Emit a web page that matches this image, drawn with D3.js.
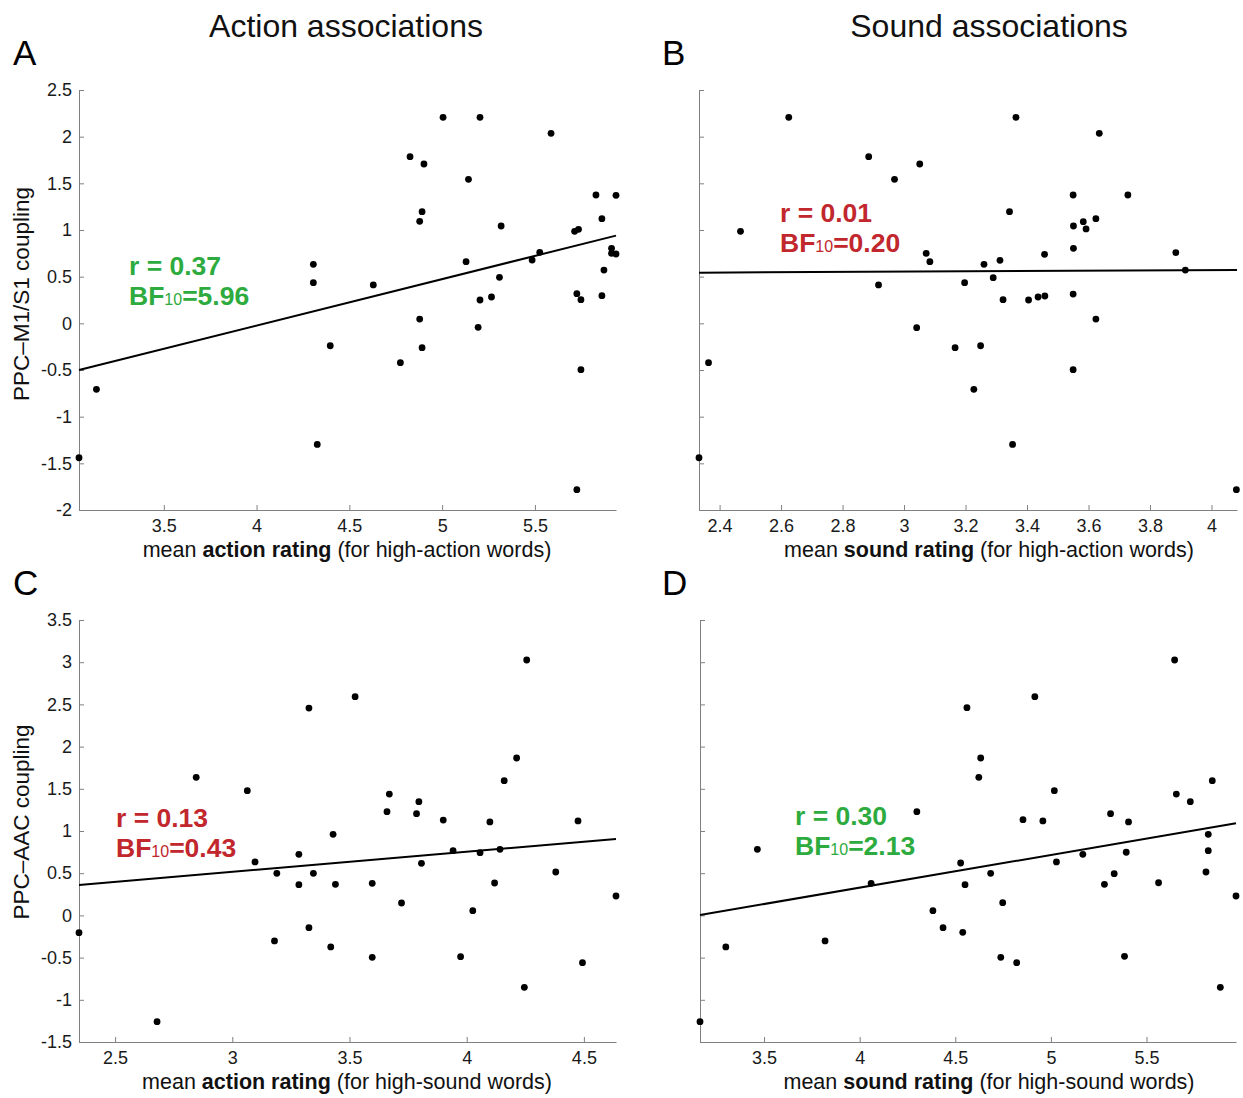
<!DOCTYPE html>
<html>
<head>
<meta charset="utf-8">
<script src="https://d3js.org/d3.v7.min.js"></script>
<style>
body { margin: 0; background: #fff; }
svg text { font-family: "Liberation Sans", Arial, Helvetica, sans-serif; }
</style>
</head>
<body>
<div id="chart"></div>
<script>
// Panel A: action rating vs PPC-M1/S1 coupling (high-action words)
var panelA_x = [3.043, 3.137, 4.306, 4.306, 4.327, 4.397, 5.005, 5.204, 5.587, 4.827,
                4.902, 5.142, 5.829, 5.937, 4.892, 4.879, 5.861, 5.318, 5.714, 5.735,
                5.913, 5.913, 5.937, 5.526, 5.485, 5.129, 5.872, 5.309, 4.629, 5.726,
                5.748, 5.861, 5.266, 5.204, 4.879, 5.194, 4.892, 4.775, 5.748, 5.726];
var panelA_y = [-1.44, -0.707, 0.632, 0.436, -1.297, -0.24, 2.207, 2.207, 2.036, 1.786,
                1.707, 1.543, 1.375, 1.371, 1.196, 1.093, 1.121, 1.043, 0.986, 1.007,
                0.804, 0.75, 0.743, 0.761, 0.678, 0.661, 0.571, 0.493, 0.411, 0.318,
                0.253, 0.296, 0.282, 0.25, 0.046, -0.043, -0.261, -0.421, -0.497, -1.782];

// Panel B: sound rating vs PPC-M1/S1 coupling (high-action words)
var panelB_x = [2.625, 2.885, 3.051, 2.969, 2.468, 3.072, 3.084, 2.917, 3.041, 3.166,
                2.364, 2.333, 3.364, 3.635, 3.550, 3.728, 3.343, 3.551, 3.583, 3.624,
                3.592, 3.551, 3.884, 3.457, 3.312, 3.260, 3.915, 3.197, 3.290, 3.322,
                3.405, 3.436, 3.458, 3.550, 3.624, 3.249, 3.227, 3.550, 3.353, 4.081];
var panelB_y = [2.207, 1.786, 1.707, 1.543, 0.986, 0.75, 0.661, 0.411, -0.046, -0.261,
                -0.421, -1.44, 2.207, 2.036, 1.375, 1.375, 1.196, 1.043, 1.089, 1.121,
                1.011, 0.804, 0.757, 0.739, 0.675, 0.632, 0.571, 0.436, 0.489, 0.253,
                0.25, 0.282, 0.293, 0.314, 0.046, -0.24, -0.707, -0.497, -1.297, -1.782];

// Panel C: action rating vs PPC-AAC coupling (high-sound words)
var panelC_x = [3.327, 2.846, 3.064, 3.097, 3.284, 3.190, 3.346, 3.284, 2.346, 3.327,
                3.180, 3.420, 2.679, 4.256, 3.524, 4.213, 4.160, 3.670, 3.796, 3.660,
                3.786, 3.900, 4.099, 4.475, 3.430, 3.942, 4.057, 4.142, 3.807, 4.380,
                3.440, 3.597, 4.119, 4.637, 3.722, 4.026, 3.597, 3.974, 4.494, 4.246];
var panelC_y = [2.457, 1.636, 1.478, 0.633, 0.724, 0.499, 0.499, 0.364, -0.205, -0.146,
                -0.303, -0.374, -1.259, 3.026, 2.591, 1.865, 1.596, 1.438, 1.347, 1.229,
                1.205, 1.130, 1.107, 1.119, 0.961, 0.767, 0.743, 0.783, 0.617, 0.514,
                0.368, 0.380, 0.384, 0.230, 0.147, 0.056, -0.497, -0.489, -0.560, -0.852];

// Panel D: sound rating vs PPC-AAC coupling (high-sound words)
var panelD_x = [4.299, 3.465, 4.060, 4.383, 4.436, 3.300, 3.819, 3.165, 4.528, 4.539,
                5.647, 4.916, 4.561, 4.633, 4.623, 5.844, 5.018, 5.656, 5.729, 5.312,
                4.854, 4.958, 5.406, 5.823, 5.823, 5.394, 5.167, 5.029, 4.685, 5.331,
                5.811, 4.551, 5.280, 5.563, 5.968, 4.748, 4.738, 5.385, 4.821, 5.886];
var panelD_y = [1.229, 0.783, 0.380, 0.056, -0.146, -0.374, -0.303, -1.259, 0.621, -0.201,
                3.026, 2.591, 2.461, 1.865, 1.636, 1.596, 1.478, 1.438, 1.347, 1.205,
                1.134, 1.119, 1.107, 0.961, 0.767, 0.748, 0.724, 0.633, 0.499, 0.494,
                0.514, 0.364, 0.368, 0.387, 0.230, 0.151, -0.497, -0.485, -0.560, -0.852];

// fitted line: y at left and right end of x range
var fitA = [-0.50, 0.94];
var fitB = [0.543, 0.571];
var fitC = [0.36, 0.905];
var fitD = [0.005, 1.091];

// axis ranges and ticks
var xDomainA = [3.043, 5.937], xDomainB = [2.333, 4.083];
var xDomainC = [2.346, 4.637], xDomainD = [3.165, 5.968];
var yDomainTop = [-2, 2.5], yDomainBottom = [-1.5, 3.5];

var xTicksA = [3.5, 4, 4.5, 5, 5.5];
var xTicksB = [2.4, 2.6, 2.8, 3, 3.2, 3.4, 3.6, 3.8, 4];
var xTicksC = [2.5, 3, 3.5, 4, 4.5];
var xTicksD = [3.5, 4, 4.5, 5, 5.5];
var yTicksTop = [-2, -1.5, -1, -0.5, 0, 0.5, 1, 1.5, 2, 2.5];
var yTicksBottom = [-1.5, -1, -0.5, 0, 0.5, 1, 1.5, 2, 2.5, 3, 3.5];

// texts
var columnTitles = ["Action associations", "Sound associations"];
var panelLetters = ["A", "B", "C", "D"];
var rValues = ["0.37", "0.01", "0.13", "0.30"];
var bfValues = ["5.96", "0.20", "0.43", "2.13"];
var yLabels = ["PPC\u2013M1/S1 coupling", "PPC\u2013AAC coupling"];
// x label parts: [plain, bold, plain]
var xLabelsA = ["mean ", "action rating", " (for high-action words)"];
var xLabelsB = ["mean ", "sound rating", " (for high-action words)"];
var xLabelsC = ["mean ", "action rating", " (for high-sound words)"];
var xLabelsD = ["mean ", "sound rating", " (for high-sound words)"];

var green = "#2eab3e", red = "#c1272d";
var axisGrey = "#808080";

var width = 1243, height = 1098;

var svg = d3.select("#chart")
  .append("svg")
    .attr("width", width)
    .attr("height", height);

var panels = [
  {xs: panelA_x, ys: panelA_y, fit: fitA, xDomain: xDomainA, yDomain: yDomainTop,
   xTicks: xTicksA, yTicks: yTicksTop, showY: true, xLabel: xLabelsA, labelX: 347,
   left: 79, right: 616, top: 90, bottom: 510, stat: 0, statX: 129, statY: 275, color: green},
  {xs: panelB_x, ys: panelB_y, fit: fitB, xDomain: xDomainB, yDomain: yDomainTop,
   xTicks: xTicksB, yTicks: yTicksTop, showY: false, xLabel: xLabelsB, labelX: 989,
   left: 699, right: 1237, top: 90, bottom: 510, stat: 1, statX: 780, statY: 222, color: red},
  {xs: panelC_x, ys: panelC_y, fit: fitC, xDomain: xDomainC, yDomain: yDomainBottom,
   xTicks: xTicksC, yTicks: yTicksBottom, showY: true, xLabel: xLabelsC, labelX: 347,
   left: 79, right: 616, top: 620, bottom: 1042, stat: 2, statX: 116, statY: 827, color: red},
  {xs: panelD_x, ys: panelD_y, fit: fitD, xDomain: xDomainD, yDomain: yDomainBottom,
   xTicks: xTicksD, yTicks: yTicksBottom, showY: false, xLabel: xLabelsD, labelX: 989,
   left: 700, right: 1236, top: 620, bottom: 1042, stat: 3, statX: 795, statY: 825, color: green}
];

function styleAxis(sel) {
  sel.select(".domain").attr("stroke", axisGrey).attr("stroke-width", 1);
  sel.selectAll(".tick line").attr("stroke", axisGrey).attr("stroke-width", 1);
  sel.selectAll(".tick text")
    .attr("fill", "#1a1a1a")
    .style("font-size", "18px")
    .style("font-family", "'Liberation Sans', Arial, sans-serif");
}

function drawPanel(p) {
  var x = d3.scaleLinear().domain(p.xDomain).range([p.left, p.right]);
  var y = d3.scaleLinear().domain(p.yDomain).range([p.bottom, p.top]);
  var g = svg.append("g");

  var xAxis = d3.axisBottom(x)
    .tickValues(p.xTicks)
    .tickSizeInner(-5)
    .tickSizeOuter(0)
    .tickPadding(9)
    .tickFormat(function(d) { return String(d); });
  g.append("g")
    .attr("transform", "translate(0," + p.bottom + ")")
    .call(xAxis)
    .call(styleAxis);

  var yAxis = d3.axisLeft(y)
    .tickValues(p.yTicks)
    .tickSizeInner(-5)
    .tickSizeOuter(0)
    .tickPadding(7)
    .tickFormat(function(d) { return p.showY ? String(d) : ""; });
  g.append("g")
    .attr("transform", "translate(" + p.left + ",0)")
    .call(yAxis)
    .call(styleAxis);

  // regression line
  g.append("line")
    .attr("x1", x(p.xDomain[0]))
    .attr("y1", y(p.fit[0]))
    .attr("x2", x(p.xDomain[1]))
    .attr("y2", y(p.fit[1]))
    .attr("stroke", "#000")
    .attr("stroke-width", 2);

  // points
  g.selectAll("circle")
    .data(d3.range(p.xs.length))
    .enter()
    .append("circle")
      .attr("cx", function(i) { return x(p.xs[i]); })
      .attr("cy", function(i) { return y(p.ys[i]); })
      .attr("r", 3.4)
      .attr("fill", "#000");

  // stats
  g.append("text")
    .attr("x", p.statX)
    .attr("y", p.statY)
    .attr("fill", p.color)
    .style("font-size", "26.5px")
    .style("font-weight", "bold")
    .text("r = " + rValues[p.stat]);
  var bf = g.append("text")
    .attr("x", p.statX)
    .attr("y", p.statY + 30)
    .attr("fill", p.color)
    .style("font-size", "26.5px")
    .style("font-weight", "bold");
  bf.append("tspan").text("BF");
  bf.append("tspan").style("font-size", "16px").style("font-weight", "normal").text("10");
  bf.append("tspan").text("=" + bfValues[p.stat]);

  // x label
  var xl = g.append("text")
    .attr("x", p.labelX)
    .attr("y", p.bottom + 47)
    .attr("text-anchor", "middle")
    .attr("fill", "#111")
    .style("font-size", "21.5px");
  xl.append("tspan").text(p.xLabel[0]);
  xl.append("tspan").style("font-weight", "bold").text(p.xLabel[1]);
  xl.append("tspan").text(p.xLabel[2]);
}

panels.forEach(drawPanel);

// y labels
svg.append("text")
  .attr("transform", "translate(29,294) rotate(-90)")
  .attr("text-anchor", "middle")
  .attr("fill", "#111")
  .style("font-size", "22.5px")
  .text(yLabels[0]);
svg.append("text")
  .attr("transform", "translate(29,822) rotate(-90)")
  .attr("text-anchor", "middle")
  .attr("fill", "#111")
  .style("font-size", "22.5px")
  .text(yLabels[1]);

// column titles
svg.append("text")
  .attr("x", 346).attr("y", 37)
  .attr("text-anchor", "middle")
  .attr("fill", "#111")
  .style("font-size", "32px")
  .text(columnTitles[0]);
svg.append("text")
  .attr("x", 989).attr("y", 37)
  .attr("text-anchor", "middle")
  .attr("fill", "#111")
  .style("font-size", "32px")
  .text(columnTitles[1]);

// panel letters
var letterPos = [[13, 65], [662, 65], [13, 595], [662, 595]];
svg.selectAll(".letter")
  .data(panelLetters)
  .enter()
  .append("text")
    .attr("class", "letter")
    .attr("x", function(d, i) { return letterPos[i][0]; })
    .attr("y", function(d, i) { return letterPos[i][1]; })
    .attr("fill", "#000")
    .style("font-size", "35px")
    .text(function(d) { return d; });
</script>
</body>
</html>
